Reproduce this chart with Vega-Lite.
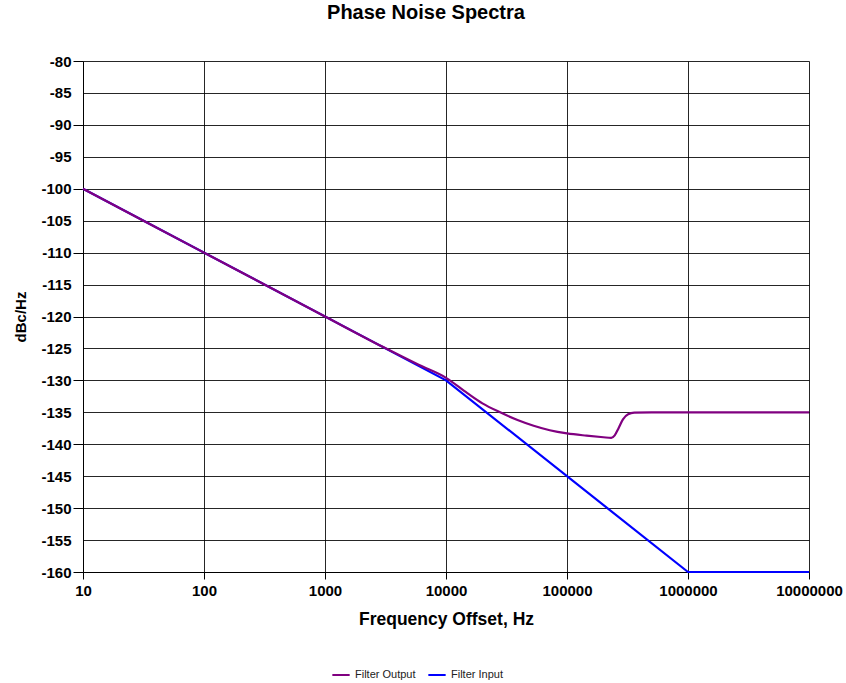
{
  "$schema": "https://vega.github.io/schema/vega-lite/v6.json",
  "autosize": {"type": "none"},
  "width": 726,
  "height": 511,
  "padding": {"left": 83, "top": 61, "right": 37, "bottom": 111},
  "background": "white",
  "title": {"text": "Phase Noise Spectra", "font": "Liberation Sans", "fontSize": 20, "fontWeight": "bold", "color": "#000000", "offset": 31, "dx": -20},
  "config": {
    "view": {"stroke": null},
    "font": "Liberation Sans",
    "axis": {"gridColor": "#000000", "gridOpacity": 0.85, "gridWidth": 1, "domainColor": "#000000", "tickColor": "#000000", "labelColor": "#000000", "labelFont": "Liberation Sans", "labelFontWeight": "bold", "labelFontSize": 15, "titleFont": "Liberation Sans", "titleFontWeight": "bold", "titleColor": "#000000"}
  },
  "datasets": {
    "input": [
      {"f": 10, "db": -100, "series": "Filter Input"},
      {"f": 10000, "db": -130, "series": "Filter Input"},
      {"f": 1000000, "db": -160, "series": "Filter Input"},
      {"f": 10000000, "db": -160, "series": "Filter Input"}
    ],
    "output": [
      {"f": 10, "db": -100, "series": "Filter Output"},
      {"f": 100, "db": -110, "series": "Filter Output"},
      {"f": 1000, "db": -120, "series": "Filter Output"},
      {"f": 3000, "db": -124.75, "series": "Filter Output"},
      {"f": 6000, "db": -127.6, "series": "Filter Output"},
      {"f": 10000, "db": -129.6, "series": "Filter Output"},
      {"f": 15000, "db": -132.0, "series": "Filter Output"},
      {"f": 20000, "db": -133.6, "series": "Filter Output"},
      {"f": 28000, "db": -135.0, "series": "Filter Output"},
      {"f": 39000, "db": -136.2, "series": "Filter Output"},
      {"f": 53000, "db": -137.1, "series": "Filter Output"},
      {"f": 72000, "db": -137.8, "series": "Filter Output"},
      {"f": 100000, "db": -138.3, "series": "Filter Output"},
      {"f": 145000, "db": -138.65, "series": "Filter Output"},
      {"f": 200000, "db": -138.9, "series": "Filter Output"},
      {"f": 232000, "db": -139.0, "series": "Filter Output"},
      {"f": 248000, "db": -138.6, "series": "Filter Output"},
      {"f": 265000, "db": -137.6, "series": "Filter Output"},
      {"f": 290000, "db": -136.1, "series": "Filter Output"},
      {"f": 320000, "db": -135.3, "series": "Filter Output"},
      {"f": 360000, "db": -135.05, "series": "Filter Output"},
      {"f": 500000, "db": -135.0, "series": "Filter Output"},
      {"f": 10000000, "db": -135.0, "series": "Filter Output"}
    ]
  },
  "encoding": {
    "x": {"field": "f", "type": "quantitative", "title": "Frequency Offset, Hz",
      "scale": {"type": "log", "domain": [10, 10000000], "nice": false},
      "axis": {"values": [10, 100, 1000, 10000, 100000, 1000000, 10000000], "format": "d", "labelFlush": false, "labelOverlap": false, "tickSize": 7, "labelPadding": 4, "titleFontSize": 17.5, "titlePadding": 12}},
    "y": {"field": "db", "type": "quantitative", "title": "dBc/Hz",
      "scale": {"domain": [-160, -80], "nice": false, "zero": false},
      "axis": {"values": [-160, -155, -150, -145, -140, -135, -130, -125, -120, -115, -110, -105, -100, -95, -90, -85, -80], "labelExpr": "toString(datum.value)", "labelFlush": false, "labelOverlap": false, "tickSize": 10, "tickOpacity": {"condition": {"test": "datum.value % 10 != 0", "value": 0}, "value": 1}, "labelPadding": 2, "titleFontSize": 15, "titlePadding": 12}},
    "color": {"field": "series", "type": "nominal",
      "scale": {"domain": ["Filter Output", "Filter Input"], "range": ["#800080", "#0000FF"]},
      "legend": {"title": null, "orient": "none", "direction": "horizontal", "legendX": 248, "legendY": 604, "symbolType": "stroke", "symbolSize": 300, "symbolStrokeWidth": 2, "labelFont": "Liberation Sans", "labelFontSize": 11, "labelColor": "#222222", "columnPadding": 8, "labelOffset": 4}}
  },
  "layer": [
    {"data": {"name": "input"}, "mark": {"type": "line", "strokeWidth": 2.2}},
    {"data": {"name": "output"}, "mark": {"type": "line", "strokeWidth": 2.2, "interpolate": "monotone"}}
  ]
}
